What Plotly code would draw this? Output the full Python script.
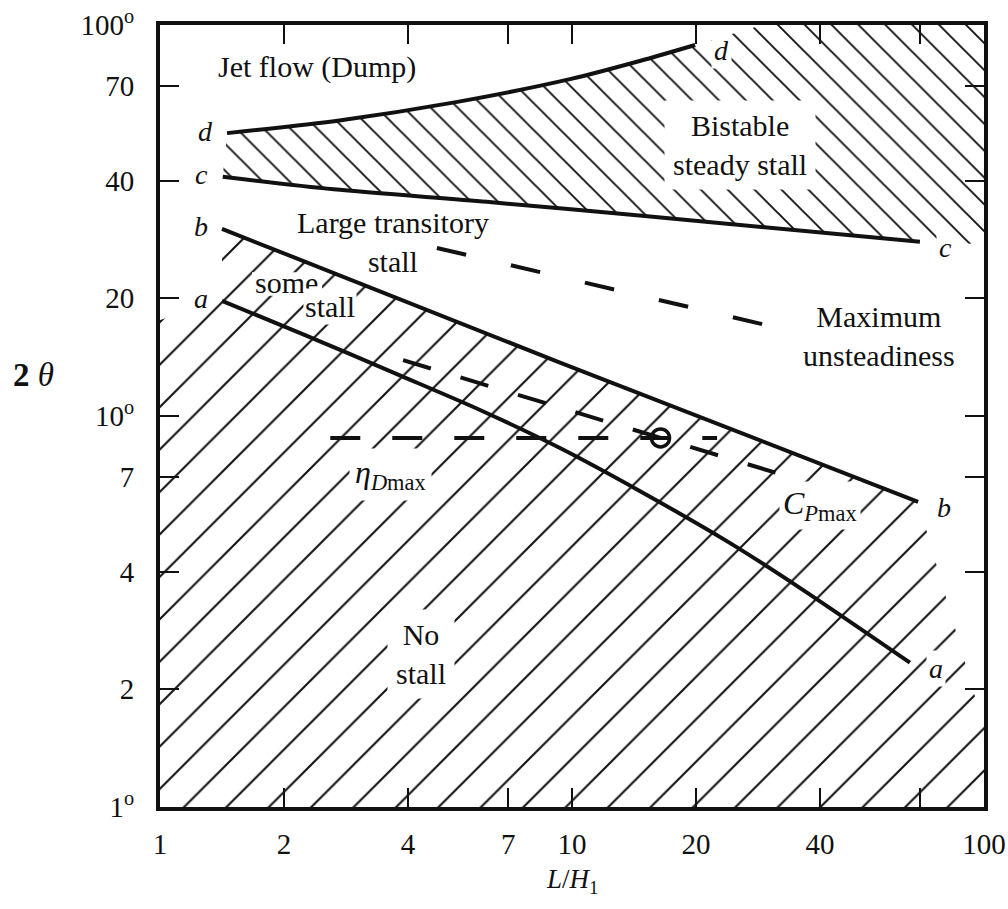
import numpy as np
import plotly.graph_objects as go

# ---- boundary curves of the flow regimes (L/H1, 2θ in degrees) ----
a_x = [1.414, 2.19, 3.82, 5.98, 9.35, 14.6, 24.2, 35.8, 66.1]
a_y = [19.7, 16.3, 12.7, 10.36, 8.28, 6.43, 4.73, 3.63, 2.34]

b_x = [1.414, 9.35, 69.2]
b_y = [30.1, 13.7, 6.03]

c_x = [1.42, 2.64, 6.21, 14.8, 69.9]
c_y = [40.9, 38.0, 35.3, 32.5, 27.9]

d_x = [1.454, 2.75, 5.23, 9.95, 14.6, 19.9]
d_y = [52.9, 57.1, 63.5, 72.8, 80.9, 88.9]

# ---- dashed optimum lines ----
unsteady_x = [4.70, 30.2]
unsteady_y = [26.9, 17.0]

cp_x = [3.89, 32.5]
cp_y = [13.9, 7.07]

eta_x = [2.59, 22.5]
eta_y = [8.79, 8.79]

# design point on the ηD,max line
point_x = [16.4]
point_y = [8.79]

# ---- axis ticks ----
x_ticks = [1, 2, 4, 7, 10, 20, 40, 100]
x_tick_text = ["1", "2", "4", "7", "10", "20", "40", "100"]
x_minor_ticks = [70]
y_ticks = [1, 2, 4, 7, 10, 20, 40, 70, 100]
y_tick_text = ["1<sup>o</sup>", "2", "4", "7", "10<sup>o</sup>", "20", "40", "70", "100<sup>o</sup>"]

SERIF = "Liberation Serif"
INK = "#111111"

fig = go.Figure()

# hatched band: bistable steady stall (between c and d, open to the upper right)
bist_x = d_x + [29.0, 100, 100] + c_x[::-1] + [d_x[0]]
bist_y = d_y + [100, 100, 27.5] + c_y[::-1] + [d_y[0]]
fig.add_trace(go.Scatter(
    x=bist_x, y=bist_y, mode="lines", fill="toself",
    line=dict(width=0, color="rgba(0,0,0,0)"),
    fillcolor="rgba(0,0,0,0)",
    fillpattern=dict(shape="\\", size=19, solidity=0.1, fgopacity=1,
                     fgcolor=INK, bgcolor="rgba(0,0,0,0)", fillmode="overlay"),
    hoverinfo="skip", showlegend=False))

# hatched band: no stall / some stall (below line b)
low_x = [1, 1, a_x[0]] + b_x + [100, 100, 1]
low_y = [1, 17.6, a_y[0]] + b_y + [1.6, 1, 1]
fig.add_trace(go.Scatter(
    x=low_x, y=low_y, mode="lines", fill="toself",
    line=dict(width=0, color="rgba(0,0,0,0)"),
    fillcolor="rgba(0,0,0,0)",
    fillpattern=dict(shape="/", size=30, solidity=0.07, fgopacity=1,
                     fgcolor=INK, bgcolor="rgba(0,0,0,0)", fillmode="overlay"),
    hoverinfo="skip", showlegend=False))

# clear the hatching behind the word "some" (kept under line b)
some_box_x = [1.672, 2.474, 2.474, 1.672, 1.672]
some_box_y = [20.3, 20.3, 23.3, 23.3, 20.3]
fig.add_trace(go.Scatter(
    x=some_box_x, y=some_box_y, mode="lines", fill="toself",
    line=dict(width=0, color="white"), fillcolor="white",
    hoverinfo="skip", showlegend=False))

# regime boundaries a, b, c, d
for cx, cy in [(a_x, a_y), (b_x, b_y), (c_x, c_y), (d_x, d_y)]:
    fig.add_trace(go.Scatter(x=cx, y=cy, mode="lines",
                             line=dict(color=INK, width=4, shape="spline", smoothing=0.8),
                             hoverinfo="skip", showlegend=False))

# dashed optimum lines
for dx, dy, dash in [(unsteady_x, unsteady_y, "30px,46px"),
                     (cp_x, cp_y, "29px,31px"),
                     (eta_x, eta_y, "30px,32px")]:
    fig.add_trace(go.Scatter(x=dx, y=dy, mode="lines",
                             line=dict(color=INK, width=4, dash=dash),
                             hoverinfo="skip", showlegend=False))

fig.add_trace(go.Scatter(x=point_x, y=point_y, mode="markers",
                         marker=dict(symbol="circle-open", size=18, color=INK,
                                     line=dict(color=INK, width=3.5)),
                         hoverinfo="skip", showlegend=False))


def note(text, x, y, size=30, bg=True, xshift=0, yshift=0, pad=4):
    fig.add_annotation(
        text=text, x=np.log10(x), y=np.log10(y), xref="x", yref="y",
        showarrow=False, xshift=xshift, yshift=yshift,
        font=dict(family=SERIF, size=size, color=INK),
        bgcolor="white" if bg else None, borderpad=pad, align="center")


# regime names
note("Jet flow (Dump)", 2.40, 78.0, bg=False)
note("Bistable<br>steady stall", 25.6, 49.3, pad=8)
note("Large transitory<br>stall", 3.68, 27.9, bg=False)
note("some", 2.03, 21.9, bg=False)
note("stall", 2.59, 19.1, pad=1)
note("Maximum<br>unsteadiness", 55.5, 16.0, bg=False)
note("No<br>stall", 4.30, 2.46, pad=8)
note("<i>η</i><sub><i>D</i>max</sub>", 3.62, 7.1, size=32, pad=5)
note("<i>C</i><sub><i>P</i>max</sub>", 40.0, 5.92, size=32, pad=3)

# curve labels at both ends
for name, cx, cy in [("a", a_x, a_y), ("b", b_x, b_y), ("c", c_x, c_y), ("d", d_x, d_y)]:
    note(f"<i>{name}</i>", cx[0], cy[0], size=28, bg=False, xshift=-21, yshift=2)
    note(f"<i>{name}</i>", cx[-1], cy[-1], size=28, xshift=26, yshift=-6, pad=2)

# axis titles
fig.add_annotation(text="<b>2</b> <i>θ</i>", xref="paper", yref="paper", x=-0.154, y=0.552,
                   xanchor="center", yanchor="middle", showarrow=False,
                   font=dict(family=SERIF, size=33, color=INK))
fig.add_annotation(text="<i>L</i>/<i>H</i><sub>1</sub>", xref="paper", yref="paper",
                   x=0.5, y=-0.095, xanchor="center", yanchor="middle", showarrow=False,
                   font=dict(family=SERIF, size=27, color=INK))

axis_common = dict(
    type="log", showgrid=False, zeroline=False, automargin=False,
    showline=True, linecolor=INK, linewidth=4, mirror="ticks",
    ticks="inside", ticklen=19, tickwidth=2, tickcolor=INK,
    tickfont=dict(family=SERIF, size=29, color=INK),
)
fig.update_xaxes(range=[0, 2], tickmode="array", tickvals=x_ticks,
                 ticktext=x_tick_text, ticklabelstandoff=8,
                 minor=dict(tickmode="array", tickvals=x_minor_ticks, ticks="inside",
                            ticklen=19, tickwidth=2, tickcolor=INK, showgrid=False),
                 **axis_common)
fig.update_yaxes(range=[0, 2], tickmode="array", tickvals=y_ticks,
                 ticktext=y_tick_text, ticklabelstandoff=16, **axis_common)

fig.update_layout(
    width=1008, height=909,
    margin=dict(l=160, r=24, t=25, b=102),
    paper_bgcolor="white", plot_bgcolor="white",
    showlegend=False,
)

fig.write_html("out.html")
